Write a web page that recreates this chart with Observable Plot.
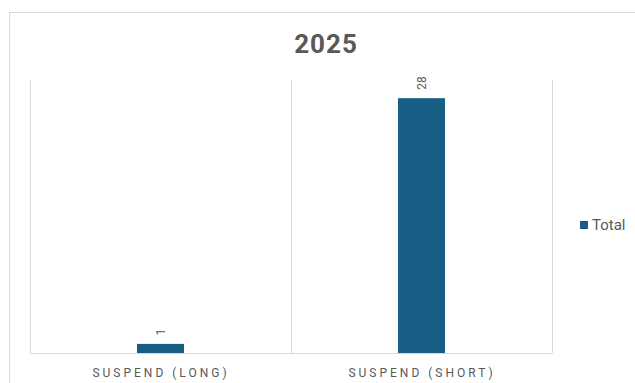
<!DOCTYPE html>
<html>
<head>
<meta charset="utf-8">
<script src="https://cdn.jsdelivr.net/npm/d3@7"></script>
<script src="https://cdn.jsdelivr.net/npm/@observablehq/plot@0.6"></script>
<style>
  html, body { margin: 0; padding: 0; background: #fff; }
  #wrap { position: relative; width: 635px; height: 383px; overflow: hidden; font-family: Roboto, "Noto Sans", sans-serif; }
  #frame { position: absolute; left: 9px; top: 12px; width: 700px; height: 500px; border: 1px solid #d9d9d9; box-sizing: border-box; }
  #title { position: absolute; left: 0; width: 652px; top: 28px; text-align: center; font-size: 26px; font-weight: bold; color: #595959; letter-spacing: 1px; line-height: 32px; }
  #legend { position: absolute; left: 580px; top: 216px; font-size: 15px; color: #595959; display: flex; align-items: center; }
  #legend .sw { width: 8px; height: 8px; background: #165e83; margin-right: 4px; }
  #chart { position: absolute; left: 0; top: 0; }
  #chart svg g[aria-label="x-axis tick label"] text { letter-spacing: 3px; }
</style>
</head>
<body>
<div id="wrap">
  <div id="frame"></div>
  <div id="chart"></div>
  <div id="title">2025</div>
  <div id="legend"><div class="sw"></div><span>Total</span></div>
</div>
<script>
const categories = ["SUSPEND (LONG)", "SUSPEND (SHORT)"];
const totals = [1, 28];
const seriesName = "Total";

const data = categories.map((c, i) => ({category: c, value: totals[i], series: seriesName}));

const W = 635, H = 383;
const mL = 30, mR = 83, mT = 80, mB = 30;
const half = (W - mL - mR) / categories.length / 2;

const chart = Plot.plot({
  width: W,
  height: H,
  marginLeft: mL,
  marginRight: mR,
  marginTop: mT,
  marginBottom: mB,
  style: {background: "transparent", fontFamily: "Roboto, 'Noto Sans', sans-serif"},
  x: {domain: categories, padding: 0, label: null},
  y: {domain: [0, 30], axis: null},
  marks: [
    Plot.ruleX(categories, {x: d => d, dx: -half, y1: 0, y2: 30, stroke: "#d9d9d9", strokeWidth: 1}),
    Plot.ruleX([categories[categories.length - 1]], {x: d => d, dx: half, y1: 0, y2: 30, stroke: "#d9d9d9", strokeWidth: 1}),
    Plot.barY(data, {x: "category", y: "value", fill: "#165e83", insetLeft: 107, insetRight: 107}),
    Plot.ruleY([0], {stroke: "#d9d9d9", strokeWidth: 1}),
    Plot.text(data, {x: "category", y: "value", text: d => String(d.value), rotate: -90, textAnchor: "start", lineAnchor: "middle", dy: -9, fill: "#595959", fontSize: 12}),
    Plot.axisX({tickSize: 0, tickPadding: 15, fontSize: 12, color: "#595959", label: null})
  ]
});
document.getElementById("chart").appendChild(chart);
</script>
</body>
</html>
